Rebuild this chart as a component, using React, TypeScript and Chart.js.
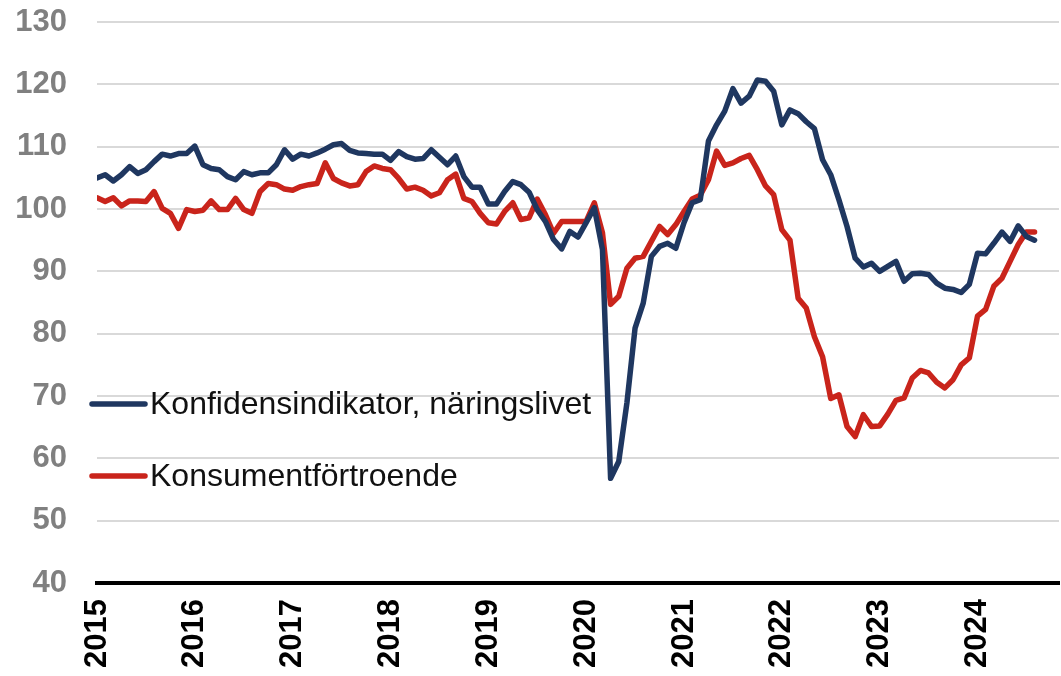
import React, { useEffect, useRef } from "react";
import { Chart, registerables } from "chart.js";

Chart.register(...registerables);

const startYear = 2015;
const yearTicks = [0, 12, 24, 36, 48, 60, 72, 84, 96, 108];
const yTicks = [40, 50, 60, 70, 80, 90, 100, 110, 120, 130];

const seriesNames = ["Konfidensindikator, näringslivet", "Konsumentförtroende"];

const konfidens = [
  105.0, 105.5, 104.5, 105.5, 106.8, 105.7, 106.3, 107.6, 108.8, 108.5, 108.9, 108.9,
  110.1, 107.1, 106.5, 106.3, 105.2, 104.7, 106.0, 105.5, 105.8, 105.8, 107.1, 109.5,
  108.0, 108.8, 108.5, 109.0, 109.6, 110.3, 110.5, 109.4, 109.0, 108.9, 108.8, 108.8,
  107.8, 109.2, 108.4, 108.0, 108.1, 109.5, 108.3, 107.1, 108.5, 105.2, 103.5, 103.5,
  100.8, 100.8, 102.8, 104.4, 103.9, 102.7, 99.9, 98.0, 95.1, 93.6, 96.4, 95.5,
  97.8, 100.2, 93.5, 56.8, 59.5, 68.9, 80.9, 84.9, 92.4, 94.0, 94.5, 93.7,
  97.8, 101.0, 101.5, 110.9, 113.5, 115.7, 119.3, 117.0, 118.1, 120.7, 120.5, 118.9,
  113.5, 115.9, 115.3, 114.0, 112.9, 107.9, 105.5, 101.5, 97.2, 92.1, 90.7, 91.3,
  90.0, 90.8, 91.6, 88.4, 89.6, 89.7, 89.5, 88.1, 87.3, 87.1, 86.6, 87.9,
  92.9, 92.8, 94.5, 96.3, 94.8, 97.3, 95.6, 95.0,
];

const konsument = [
  101.8, 101.2, 101.8, 100.5, 101.3, 101.3, 101.2, 102.8, 100.1, 99.3, 96.9, 99.9,
  99.6, 99.8, 101.3, 99.9, 99.9, 101.7, 99.9, 99.3, 102.8, 104.1, 103.9, 103.2,
  103.0, 103.6, 103.9, 104.1, 107.4, 104.9, 104.2, 103.7, 103.9, 106.0, 106.9, 106.5,
  106.3, 104.9, 103.2, 103.5, 103.0, 102.1, 102.6, 104.7, 105.6, 101.7, 101.2, 99.3,
  97.8, 97.6, 99.6, 101.0, 98.3, 98.6, 101.6, 99.1, 96.1, 98.0, 98.0, 98.0,
  98.0, 101.0, 96.2, 84.7, 86.0, 90.5, 92.1, 92.4, 94.8, 97.2, 95.9, 97.5,
  99.6, 101.6, 102.2, 104.7, 109.3, 107.0, 107.4, 108.1, 108.6, 106.3, 103.7, 102.3,
  96.7, 95.0, 85.7, 84.1, 79.5, 76.3, 69.6, 70.2, 65.1, 63.5, 67.0, 65.1,
  65.2, 67.1, 69.3, 69.7, 72.9, 74.1, 73.7, 72.2, 71.3, 72.6, 75.0, 76.1,
  82.8, 83.9, 87.6, 88.9, 91.6, 94.3, 96.3, 96.3,
];

const BLUE = "#1F3760";
const RED = "#C9241B";
const FONT = "'Liberation Sans', Arial, sans-serif";

const legendPlugin = {
  id: "inlineLegend",
  afterDatasetsDraw(chart: any) {
    const ctx = chart.ctx;
    const items = [
      { label: seriesNames[0], color: BLUE, y: 404 },
      { label: seriesNames[1], color: RED, y: 476 },
    ];
    ctx.save();
    items.forEach((it) => {
      ctx.beginPath();
      ctx.strokeStyle = it.color;
      ctx.lineWidth = 5.5;
      ctx.lineCap = "round";
      ctx.moveTo(92, it.y);
      ctx.lineTo(145, it.y);
      ctx.stroke();
      ctx.fillStyle = "#111111";
      ctx.font = `32px ${FONT}`;
      ctx.textBaseline = "middle";
      ctx.textAlign = "left";
      ctx.fillText(it.label, 150, it.y + 1);
    });
    ctx.restore();
  },
};

export default function App() {
  const ref = useRef<HTMLCanvasElement>(null);

  useEffect(() => {
    if (!ref.current) return;
    const toPoints = (arr: number[]) => arr.map((v, i) => ({ x: i, y: v }));
    const chart = new Chart(ref.current, {
      type: "line",
      data: {
        datasets: [
          {
            label: seriesNames[0],
            data: toPoints(konfidens),
            borderColor: BLUE,
            borderWidth: 5.5,
            pointRadius: 0,
            tension: 0,
            borderJoinStyle: "round",
            borderCapStyle: "round",
          },
          {
            label: seriesNames[1],
            data: toPoints(konsument),
            borderColor: RED,
            borderWidth: 5.5,
            pointRadius: 0,
            tension: 0,
            borderJoinStyle: "round",
            borderCapStyle: "round",
          },
        ],
      },
      options: {
        animation: false,
        responsive: false,
        layout: { padding: { top: 22, right: 2, left: 0, bottom: 0 } },
        plugins: { legend: { display: false }, tooltip: { enabled: false } },
        scales: {
          x: {
            type: "linear",
            min: 0,
            max: 118,
            grid: { display: false, drawTicks: false },
            border: { display: true, color: "#000000", width: 4 },
            afterBuildTicks: (scale: any) => {
              scale.ticks = yearTicks.map((v) => ({ value: v }));
            },
            afterFit: (scale: any) => {
              scale.height = 93;
              scale.paddingLeft = 0;
              scale.paddingRight = 0;
            },
            ticks: {
              autoSkip: false,
              minRotation: 90,
              maxRotation: 90,
              padding: 16,
              color: "#000000",
              font: { family: FONT, size: 31, weight: "bold" },
              callback: (value: any) => String(startYear + Number(value) / 12),
            },
          },
          y: {
            type: "linear",
            min: 40,
            max: 130,
            afterBuildTicks: (scale: any) => {
              scale.ticks = yTicks.map((v) => ({ value: v }));
            },
            afterFit: (scale: any) => {
              scale.width = 97;
              scale.paddingTop = 0;
              scale.paddingBottom = 0;
            },
            grid: { color: "#D9D9D9", lineWidth: 2, drawTicks: false },
            border: { display: false },
            ticks: {
              padding: 30,
              color: "#808080",
              font: { family: FONT, size: 31, weight: "bold" },
            },
          },
        },
      },
      plugins: [legendPlugin],
    });
    return () => chart.destroy();
  }, []);

  return (
    <div style={{ position: "fixed", left: 0, top: 0, width: 1061, height: 676, background: "#ffffff" }}>
      <canvas ref={ref} width={1061} height={676} style={{ display: "block" }} />
    </div>
  );
}
